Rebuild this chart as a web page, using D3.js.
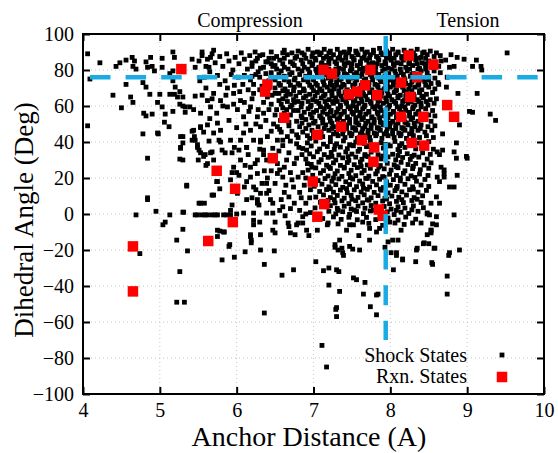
<!DOCTYPE html>
<html>
<head>
<meta charset="utf-8">
<script src="https://cdn.jsdelivr.net/npm/d3@7"></script>
<style>
  body { margin: 0; background: #fff; }
  svg { display: block; }
</style>
</head>
<body>
<div id="container"></div>
<script>
// ---- data ----
let xTicks = [4, 5, 6, 7, 8, 9, 10];
let yTicks = [-100, -80, -60, -40, -20, 0, 20, 40, 60, 80, 100];
let cutDistance = 7.94;   // vertical dashed line
let cutAngle = 76;        // horizontal dashed line
let vLineBottom = -70;

// reaction states (red)
let rxnStates = [
  [5.28,80.5],[6.37,68],[6.4,72],[6.62,53.5],[6.47,31],[5.74,24],[5.98,14],[5.95,-4.5],[5.63,-15],[4.65,-18],[4.65,-43],
  [8.24,88],[8.56,83],[7.13,80],[7.24,78],[7.74,80],[8.14,73],[8.35,76],[7.46,66.5],[7.57,68],[7.67,71.5],[7.83,66],
  [8.26,65],[8.74,60.5],[8.83,54],[8.14,54],[8.43,54],[7.36,48.5],[7.05,44],[7.63,41],[7.79,37],[8.28,39.5],[8.44,38],
  [7.78,29],[6.99,18],[7.14,5.5],[7.05,-1.5],[7.85,2.5],[7.9,-1]
];

// shock states (black), scattered outer points
let shockSparse = [
  [4.06,89],[4.22,84],[4.09,75],[4.06,49],[4.43,82],[4.48,84],[4.56,85.5],[4.64,87],[4.67,85],[4.65,82],[4.69,80.5],
  [4.56,72],[4.39,66],[4.62,65],[4.65,62],[4.5,59],[4.78,73],[4.82,70.5],[4.87,66.5],[4.79,56],[4.82,54.5],[4.9,55.5],
  [4.78,44.5],[4.82,84.5],[4.88,87],[4.9,82],[4.84,81.5],[4.93,79.5],[5.03,86.5],[5.03,81.5],[5.0,66.5],[4.97,62],
  [4.98,44.5],[5.03,59.5],[5.07,55.5],[5.06,51],[5.12,48.5],[5.17,90],[5.19,87],[5.17,79.5],[5.13,78],[5.17,74],
  [5.2,70.5],[5.19,66.5],[5.23,65],[5.26,68],[5.3,65],[5.26,61],[5.13,66.5],[5.17,57],[5.3,60],[5.33,56.5],[5.42,86],
  [5.51,85],[5.55,88],[5.46,81.5],[5.52,74],[5.46,65.5],[5.39,59.5],[5.42,46],[5.3,43],[5.45,43],[5.64,81.5],[5.66,87],
  [5.53,48.5],[5.64,40.5],
  [5.27,43],[5.27,37],[5.3,30],[5.35,16],[5.31,1],[5.44,46.5],[5.42,41],[5.49,37],[5.53,34],[5.57,32],[5.62,28],
  [5.66,34],[5.53,48],[5.57,45.5],[5.62,49.5],[5.7,45],[5.75,50.5],[5.79,46.5],[5.77,41],[5.81,35.5],[5.7,30],
  [5.92,41],[5.94,34],[5.96,26],[6.03,21.5],[5.92,19],[5.75,18],[5.7,10.5],[5.53,6],[5.49,-0.5],[5.55,-0.5],
  [5.62,-0.5],[5.68,-0.5],[5.75,-0.5],[5.83,-0.5],[5.92,2],[4.84,8],[4.84,31],[4.69,-0.5],[4.97,45],
  [5.33,59.5],[5.44,58],[5.53,56],[5.62,63],[5.66,59.5],[5.7,67],[5.79,63],[5.88,59.5],[5.96,67],[6.05,63],[6.01,58],
  [6.09,54],[6.18,59.5],[6.22,67],[6.27,54],[6.31,48.5],[6.18,46.5],[6.09,45],[6.05,41],[6.13,37],[6.22,41],[6.31,41],
  [6.35,35.5],[6.39,30],[6.27,30],[6.18,26],[6.27,22.5],[6.13,18],[6.22,15],[6.31,11.5],[6.39,17],[6.44,8],[6.27,6],
  [6.13,8],[6.09,0.5],[6.22,0.5],[6.39,0.5],[6.47,0.5],[6.01,11.5],[6.53,22.5],[6.53,41],[6.53,48.5],
  [5.55,90],[5.62,86],[5.68,89],[5.72,84],[5.78,87.5],[5.82,82],[5.87,89],[5.9,85],[5.95,80],[5.98,87],[6.03,83.5],
  [6.06,89.5],[6.1,86],[6.14,80.5],[6.17,88],[6.2,84],[6.24,90],[6.27,86.5],[6.31,81],[6.34,88.5],[6.38,84.5],
  [6.42,86.5],[6.47,82],[5.65,79],[5.75,77],[5.85,74],[5.93,77.5],[6.02,76],[6.1,77],[6.18,74.5],[6.25,77.5],
  [6.38,78],[6.42,74],[5.6,82],[5.7,91],[5.58,76],[5.88,70],[5.97,71.5],[6.08,72],[6.15,69],[6.22,72],[6.33,71],
  [6.4,65],[6.46,66],[6.35,62],[6.42,58],[6.38,52],[6.45,46],[6.5,55],[6.4,43],[6.58,45.5],
  [9.52,89.5],[9.12,85.5],[9.07,82],[9.18,82],[9.19,80],[8.96,86],[8.87,87],[8.79,88.5],[8.72,85.5],[8.83,82],
  [8.77,81.5],[9.13,67],[8.88,67],[9.03,57],[9.07,56.5],[9.3,55.5],[9.37,52],[8.9,49.5],[8.73,70.5],[8.74,76],
  [8.63,72],[8.68,44.5],
  [9.0,31],[8.86,31],[8.87,21.5],[8.83,15],[8.61,20.5],[8.7,20.5],[8.66,26],[8.7,24.5],[8.64,33],[8.61,34.5],
  [8.53,6],[8.64,6],[8.83,-0.5],[8.6,-1.5],[8.51,-0.5],[8.6,-6],[8.53,-9],[8.48,-11.5],[8.44,-16],[8.57,-19],
  [8.77,-21.5],[8.9,-20],[8.35,-19],[8.48,0],[8.68,35.5],[8.86,39.5],[8.83,34.5],[8.99,32],[8.7,22.5],[8.64,18],
  [8.77,15],[8.6,9.5],
  [4.74,-22],[5.26,-32],[5.22,-49],[5.32,-49],[5.81,-25.5],[5.97,-24],[6.36,-28],[6.36,-55],[6.59,-34],[6.74,-31],
  [7.03,-26.5],[7.13,-31.5],[7.2,-30],[7.3,-31],[7.33,-32],[7.2,-39.5],[7.34,-43],[7.52,-35.5],[7.56,-36.5],
  [7.67,-38],[7.65,-44.5],[7.84,-44.5],[7.74,-51.5],[7.82,-56],[7.3,-52],[7.3,-57],[7.11,-73],[7.17,-85],
  [8.04,-31],[8.16,-25.5],[8.33,-26.5],[8.55,-28],[8.74,-34.5],[8.74,-44.5],[8.76,-23],[7.39,-23],[8.08,-23],
  [5.04,-6],[5.07,-4.5],[5.22,-14.5],[5.3,-8.5],[5.36,-20.5],[5.75,-9],[5.75,-12.5],[5.83,-10],[5.91,-17],
  [6.11,-21],[6.18,-11.5],[6.19,-14.5],[6.19,-16],[6.22,-6],[6.3,-4.5],[6.31,-20],[6.49,-20.5],[6.5,-10.5],
  [6.7,-10.5],[6.76,-11.5],[6.67,-5],[6.78,-6],[6.86,-5],[6.91,-9],[6.94,-12],[7.19,-5],[7.28,-17],[7.34,-14.5],
  [7.32,-20],[7.37,-19],[7.38,-21.5],[7.51,-19.5],[7.43,-9],[7.47,-6],[7.59,-12],[7.64,-4.5],[7.73,-8],[7.82,-10],
  [7.86,-8],[7.82,-45],[7.29,-53],[7.93,-18.5],[7.97,-15.5],[8.03,-14.5],[8.1,-14.5],[8.01,-21.5],[8.08,-21.5],
  [8.16,-25],[8.06,-5],[8.14,-9],[7.99,-4.5],[8.29,-5],[8.34,-20],[8.43,-16.5],[8.5,-16.5],[8.58,-19],[8.54,-27],
  [8.53,-9],[8.53,-10.5],[8.55,-5.5],
  [4.84,9],[4.95,1.5],[5.13,-0.5],[5.3,1],[5.35,15.5],[5.27,36.5],[5.26,30.5],[5.3,39.5],[5.46,41],[5.49,38.5],
  [5.51,35.5],[5.5,30],[5.59,33],[5.6,27],[5.68,34.5],[5.79,40],[5.85,34],[5.97,37],[6.03,35.5],[6.0,23],[5.94,23],
  [5.74,18],[5.78,14],[5.68,10.5],[5.51,6],[5.58,6],[5.46,-0.5],[5.59,-0.5],[5.72,-0.5],[5.87,-0.5],[5.92,-0.5],
  [6.0,0],[5.94,5],[5.78,-9.5],[5.84,-10],[5.9,-18],
  [6.11,27],[6.18,20.5],[6.25,13.5],[6.27,8],[6.29,5],[6.35,33],[6.33,17],[6.39,11.5],[6.47,6],[6.6,4],[6.58,8],
  [6.68,9.5],[6.74,15],[6.6,20.5],[6.56,24.5],[6.53,28],[6.65,30],[6.68,34],[6.81,37],[6.91,35.5],[6.98,26],
  [6.86,23],[6.8,20.5],[6.96,13.5],[6.86,-1.5],[6.8,-5],[6.68,-7],[6.47,-9],[6.31,-11.5],[6.18,-12.5],[6.22,-3.5],
  [6.5,-4.5],[7.05,-9],[7.18,-6],[7.47,-18],[7.6,-20],[7.73,-14.5],[7.28,-18.5],[6.13,37],[6.31,40],[6.47,36.5],
  [6.6,38],[6.82,2],[6.9,6],[6.75,28],[6.88,16],
  [6.62,12],[6.7,3],[6.78,31],[6.84,9],[6.92,28],[6.55,35],[6.45,24],[6.72,19],[6.9,0],[6.4,20],[6.63,-1],
  [6.35,56],[6.45,61],[6.52,58],[6.48,50],[6.56,47],[6.62,56],[6.55,63],[6.6,41],[6.7,40.5],[6.78,44],
  [6.85,50.5],[6.6,59],[6.66,68],[6.5,67],[6.42,70],[6.75,62],[6.68,51],[6.74,57.5],[6.95,42],[6.57,52],
  [5.6,70],[5.68,64],[5.74,56],[5.82,60],[5.86,66],[5.9,52],[5.96,61],[6.0,48],[6.04,68],[6.1,62],
  [6.12,50],[6.16,57],[6.2,64],[6.25,50],[6.28,58],[6.3,69],[6.2,76.5],[5.78,72],[5.55,66],[5.65,53],
  [6.05,30],[6.1,15],[6.15,33],[6.2,9],[6.24,28],[6.3,36],[6.36,24],[6.42,13],[6.45,32],[6.5,17],
  [6.56,2],[6.62,26],[6.7,23],[6.75,6],[6.82,12],[6.85,33],[6.9,20],[6.95,9],[6.78,39],[6.64,16]
];

// shock states, dense upper block (41 < angle < 92)
let shockUpper = [
  [6.45,90],[6.62,91],[6.8,90.5],[6.93,91.5],[7.05,90],[7.14,91.5],[7.22,90.5],[7.31,91.5],[7.4,90],[7.47,91.5],[7.55,90.5],[7.63,91.5],[7.7,90],[7.78,91],[7.86,92],[7.95,90.5],[8.03,91.5],[8.1,90],[8.18,91],[8.27,90.5],[8.35,91.5],[8.44,90],[8.52,90.5],[8.6,89.5],
  [6.3,88],[6.52,87.5],[6.66,88.5],[6.78,87.5],[6.88,88.5],[6.98,87.5],[7.08,88.5],[7.17,87.5],[7.26,88.5],[7.34,87],[7.42,88.5],[7.5,87.5],[7.58,88.5],[7.66,87],[7.74,88.5],[7.82,87.5],[7.9,88.5],[7.99,87],[8.07,88.5],[8.15,87.5],[8.32,88],[8.4,87],[8.48,88.5],[8.57,87.5],[8.65,88],
  [6.25,85],[6.4,84.5],[6.56,85.5],[6.7,84.5],[6.84,85.5],[6.95,84.5],[7.03,85.5],[7.11,84],[7.2,85.5],[7.28,84.5],[7.37,85.5],[7.45,84],[7.53,85.5],[7.61,84.5],[7.69,85.5],[7.77,84],[7.85,85.5],[7.93,84.5],[8.01,85.5],[8.09,84],[8.17,85.5],[8.25,84.5],[8.33,85.5],[8.41,84],[8.5,85],[8.58,84.5],[8.66,85],
  [6.2,82],[6.35,81.5],[6.5,82.5],[6.62,81.5],[6.75,82.5],[6.88,81.5],[6.98,82.5],[7.07,81.5],[7.16,82.5],[7.33,81],[7.41,82.5],[7.49,81.5],[7.57,82.5],[7.65,81],[7.81,81.5],[7.89,82.5],[7.97,81],[8.05,82.5],[8.2,81.5],[8.29,82.5],[8.38,81],[8.46,82.5],[8.55,81.5],[8.63,82],
  [6.28,79],[6.45,78.5],[6.58,79.5],[6.72,78.5],[6.85,79.5],[6.95,78.5],[7.04,79.5],[7.32,79.5],[7.4,78],[7.48,79.5],[7.56,78.5],[7.64,79.5],[7.81,78.5],[7.9,79.5],[7.98,78],[8.06,79.5],[8.14,78.5],[8.22,79.5],[8.3,78],[8.4,79.5],[8.48,78.5],[8.57,79.5],[8.65,78.5],
  [6.3,76],[6.48,75.5],[6.62,76.5],[6.76,75.5],[6.9,76.5],[7.0,75.5],[7.1,76.5],[7.19,75.5],[7.28,76.5],[7.36,75],[7.44,76.5],[7.52,75.5],[7.6,76.5],[7.68,75],[7.76,76.5],[7.85,75.5],[7.93,76.5],[8.01,75],[8.09,76.5],[8.18,75.5],[8.26,76.5],[8.42,75.5],[8.5,76.5],[8.58,75.5],
  [6.42,73],[6.55,72.5],[6.68,73.5],[6.8,72.5],[6.93,73.5],[7.03,72.5],[7.13,73.5],[7.22,72.5],[7.3,73.5],[7.38,72],[7.46,73.5],[7.54,72.5],[7.72,73],[7.8,72],[7.88,73.5],[7.96,72.5],[8.04,73.5],[8.2,72.5],[8.28,73.5],[8.37,72],[8.45,73.5],[8.53,72.5],[8.62,73],
  [6.5,70],[6.63,69.5],[6.75,70.5],[6.87,69.5],[6.98,70.5],[7.08,69.5],[7.18,70.5],[7.27,69.5],[7.36,70.5],[7.44,69],[7.52,70.5],[7.6,69.5],[7.68,70.5],[7.76,69],[7.84,70.5],[7.92,69.5],[8.0,70.5],[8.08,69],[8.16,70.5],[8.24,69.5],[8.32,70.5],[8.41,69],[8.5,70.5],[8.58,69.5],
  [6.55,67],[6.7,66.5],[6.82,67.5],[6.95,66.5],[7.05,67.5],[7.15,66.5],[7.24,67.5],[7.33,66.5],[7.41,67.5],[7.49,66],[7.57,67.5],[7.65,66.5],[7.73,67.5],[7.81,66],[7.89,67.5],[7.97,66.5],[8.05,67.5],[8.13,66],[8.21,67.5],[8.3,66.5],[8.38,67.5],[8.47,66.5],[8.55,67.5],
  [6.6,64],[6.74,63.5],[6.87,64.5],[6.99,63.5],[7.1,64.5],[7.2,63.5],[7.29,64.5],[7.38,63.5],[7.46,64.5],[7.54,63],[7.62,64.5],[7.7,63.5],[7.78,64.5],[7.86,63],[7.94,64.5],[8.02,63.5],[8.1,64.5],[8.18,63],[8.26,64.5],[8.35,63.5],[8.43,64.5],[8.52,63.5],[8.6,64],
  [6.58,61],[6.72,60.5],[6.85,61.5],[6.97,60.5],[7.07,61.5],[7.17,60.5],[7.26,61.5],[7.35,60.5],[7.43,61.5],[7.51,60],[7.59,61.5],[7.67,60.5],[7.75,61.5],[7.83,60],[7.91,61.5],[7.99,60.5],[8.07,61.5],[8.15,60],[8.23,61.5],[8.32,60.5],[8.4,61.5],[8.49,60.5],[8.57,61.5],
  [6.65,58],[6.8,57.5],[6.93,58.5],[7.04,57.5],[7.14,58.5],[7.23,57.5],[7.32,58.5],[7.4,57],[7.48,58.5],[7.56,57.5],[7.64,58.5],[7.72,57],[7.8,58.5],[7.88,57.5],[7.96,58.5],[8.04,57],[8.12,58.5],[8.2,57.5],[8.29,58.5],[8.37,57],[8.46,58.5],[8.55,57.5],
  [6.7,55],[6.84,54.5],[6.96,55.5],[7.08,54.5],[7.18,55.5],[7.27,54.5],[7.36,55.5],[7.44,54],[7.52,55.5],[7.6,54.5],[7.68,55.5],[7.76,54],[7.84,55.5],[7.92,54.5],[8.0,55.5],[8.08,54],[8.16,55.5],[8.25,54.5],[8.33,55.5],[8.5,55],[8.58,54.5],
  [6.62,52],[6.78,51.5],[6.9,52.5],[7.02,51.5],[7.12,52.5],[7.22,51.5],[7.31,52.5],[7.39,51.5],[7.47,52.5],[7.55,51],[7.63,52.5],[7.71,51.5],[7.79,52.5],[7.87,51],[7.95,52.5],[8.03,51.5],[8.11,52.5],[8.19,51],[8.27,52.5],[8.36,51.5],[8.44,52.5],[8.53,51.5],
  [6.68,49],[6.82,48.5],[6.94,49.5],[7.06,48.5],[7.16,49.5],[7.26,48.5],[7.43,49.5],[7.51,48],[7.59,49.5],[7.67,48.5],[7.75,49.5],[7.83,48],[7.91,49.5],[7.99,48.5],[8.07,49.5],[8.15,48],[8.23,49.5],[8.32,48.5],[8.4,49.5],[8.49,48.5],[8.58,49],
  [6.72,46],[6.86,45.5],[6.98,46.5],[7.1,45.5],[7.2,46.5],[7.3,45.5],[7.39,46.5],[7.47,45],[7.55,46.5],[7.63,45.5],[7.71,46.5],[7.79,45],[7.87,46.5],[7.95,45.5],[8.03,46.5],[8.11,45],[8.19,46.5],[8.28,45.5],[8.36,46.5],[8.45,45.5],[8.54,46.5],
  [6.66,43],[6.8,42.5],[6.92,43.5],[7.12,43],[7.22,42.5],[7.32,43.5],[7.41,42.5],[7.49,43.5],[7.57,42],[7.65,43.5],[7.73,42.5],[7.81,43.5],[7.89,42],[7.97,43.5],[8.05,42.5],[8.13,43.5],[8.21,42],[8.3,43.5],[8.38,42.5],[8.47,43.5],[8.56,42.5]
];

// shock states, the packed core: one angle, then the distances on that row
let shockCoreRows = [
  [89.5, [6.6,6.72,6.85,6.99,7.1,7.2,7.35,7.46,7.56,7.67,7.78,7.88,7.99,8.1,8.2,8.3,8.42]],
  [86.5, [6.48,6.62,6.76,6.9,7.02,7.13,7.23,7.32,7.42,7.52,7.63,7.73,7.84,7.95,8.05,8.15,8.26,8.37,8.46]],
  [83.5, [6.45,6.6,6.73,6.86,6.99,7.1,7.2,7.3,7.4,7.5,7.61,7.72,7.83,7.94,8.04,8.14,8.24,8.35,8.45]],
  [80.5, [6.52,6.67,6.8,6.93,7.03,7.2,7.29,7.39,7.5,7.6,7.7,7.8,7.92,8.02,8.13,8.25,8.36,8.46]],
  [77.5, [6.55,6.69,6.82,6.95,7.05,7.17,7.32,7.43,7.53,7.63,7.74,7.85,7.96,8.07,8.17,8.28,8.38]],
  [74.5, [6.5,6.62,6.75,6.87,7.0,7.12,7.23,7.34,7.45,7.56,7.66,7.77,7.87,7.98,8.08,8.19,8.3,8.4,8.5]],
  [71.5, [6.57,6.7,6.82,6.95,7.05,7.14,7.24,7.3,7.4,7.51,7.62,7.72,7.83,7.94,8.04,8.15,8.26,8.36,8.46]],
  [68.5, [6.6,6.74,6.88,7.0,7.11,7.21,7.33,7.43,7.54,7.64,7.75,7.86,7.96,8.07,8.18,8.28,8.38]],
  [65.5, [6.64,6.77,6.9,7.02,7.13,7.24,7.36,7.46,7.57,7.68,7.78,7.88,7.99,8.1,8.2,8.31,8.41]],
  [62.5, [6.66,6.8,6.93,7.04,7.15,7.25,7.31,7.42,7.52,7.63,7.74,7.84,7.95,8.05,8.16,8.27,8.37,8.47]],
  [59.5, [6.7,6.84,6.96,7.09,7.2,7.35,7.45,7.56,7.66,7.77,7.87,7.98,8.09,8.19,8.3,8.4]],
  [56.5, [6.88,7.0,7.12,7.22,7.3,7.4,7.5,7.61,7.72,7.83,7.93,8.04,8.14,8.25,8.36]],
  [53.5, [6.85,6.98,7.1,7.21,7.34,7.44,7.55,7.65,7.76,7.86,7.97,8.08,8.18,8.29,8.4]],
  [50.5, [7.0,7.12,7.24,7.36,7.47,7.57,7.68,7.79,7.89,8.0,8.1,8.21,8.31]],
  [47.5, [6.9,7.14,7.24,7.33,7.43,7.54,7.64,7.75,7.85,7.96,8.07,8.17,8.28,8.39]],
  [44.5, [7.0,7.26,7.38,7.5,7.61,7.71,7.82,7.92,8.03,8.14,8.25]]
];

// shock states, lower band (about -6 to 41 degrees)
let shockLower = [
  [6.92,39.5],[7.03,40.5],[7.13,38.8],[7.22,40.2],[7.3,39],[7.39,40.6],[7.47,38.5],[7.55,40],[7.66,39.2],[7.74,40.7],[7.88,39.6],[7.97,38.4],[8.06,40.3],[8.15,39.1],[8.24,40.5],[8.36,39.4],[8.5,40.2],
  [6.86,36.4],[6.97,37.8],[7.08,36.1],[7.18,37.5],[7.27,35.9],[7.35,37.2],[7.44,36.3],[7.52,37.9],[7.6,36],[7.69,37.4],[7.91,36.6],[8.0,37.8],[8.1,35.8],[8.19,37],[8.33,36.2],[8.47,37.1],[8.56,36],
  [6.95,33.4],[7.05,34.6],[7.14,33],[7.23,34.2],[7.33,32.8],[7.42,34.5],[7.5,33.3],[7.58,34.8],[7.67,33],[7.75,34.4],[7.84,32.9],[7.94,34.1],[8.03,33.2],[8.12,34.7],[8.22,33.5],[8.31,32.7],[8.42,34],[8.52,33.1],
  [6.9,30.5],[7.0,31.8],[7.1,30.2],[7.19,31.5],[7.29,30],[7.38,31.2],[7.46,29.8],[7.55,31.6],[7.63,30.4],[7.71,31.9],[7.88,30.6],[7.97,31.7],[8.07,30.1],[8.16,31.4],[8.26,30.3],[8.37,31.6],[8.48,30.5],
  [6.97,27.6],[7.07,28.8],[7.17,27.1],[7.26,28.4],[7.35,27],[7.44,28.6],[7.53,27.4],[7.61,28.9],[7.7,27.2],[7.79,28.5],[7.87,26.9],[7.96,28.2],[8.05,27.3],[8.14,28.7],[8.23,27.5],[8.33,28.1],[8.44,27.2],[8.53,28.4],
  [6.93,24.4],[7.03,25.6],[7.13,24.1],[7.22,25.3],[7.31,23.9],[7.4,25.5],[7.49,24.3],[7.57,25.8],[7.66,24.2],[7.74,25.4],[7.83,23.8],[7.92,25.1],[8.01,24.4],[8.1,25.7],[8.19,24],[8.29,25.2],[8.39,24.6],[8.5,25.4],
  [6.99,21.5],[7.09,22.7],[7.19,21.1],[7.28,22.4],[7.37,20.9],[7.46,22.5],[7.55,21.3],[7.63,22.8],[7.72,21],[7.81,22.3],[7.9,20.8],[7.99,22.1],[8.08,21.4],[8.17,22.6],[8.27,21.2],[8.38,22.2],[8.49,21.4],
  [7.06,18.6],[7.15,19.7],[7.24,18.2],[7.33,19.5],[7.42,17.9],[7.51,19.4],[7.6,18.3],[7.68,19.8],[7.77,18.1],[7.86,19.3],[7.95,17.8],[8.04,19.1],[8.13,18.4],[8.23,19.6],[8.34,18.2],[8.45,19.2],
  [7.01,15.4],[7.11,16.6],[7.2,15.1],[7.29,16.3],[7.38,14.8],[7.47,16.4],[7.56,15.2],[7.64,16.7],[7.73,15],[7.82,16.2],[7.91,14.7],[8.0,16],[8.09,15.3],[8.19,16.5],[8.29,15.1],[8.4,16.1],[8.5,15.3],
  [7.08,12.5],[7.17,13.6],[7.26,12.1],[7.35,13.3],[7.44,11.8],[7.53,13.4],[7.62,12.2],[7.7,13.7],[7.79,12],[7.88,13.2],[7.97,11.7],[8.06,13],[8.15,12.3],[8.25,13.5],[8.36,12.1],[8.47,13.1],
  [7.03,9.4],[7.13,10.6],[7.22,9.1],[7.31,10.3],[7.4,8.8],[7.49,10.4],[7.58,9.2],[7.66,10.7],[7.75,9],[7.84,10.2],[7.93,8.7],[8.02,10],[8.11,9.3],[8.21,10.5],[8.31,9.1],[8.42,10.1],
  [7.09,6.5],[7.19,7.6],[7.28,6.1],[7.37,7.3],[7.46,5.8],[7.55,7.4],[7.64,6.2],[7.72,7.7],[7.81,6],[7.9,7.2],[7.99,5.7],[8.08,7],[8.17,6.3],[8.28,7.5],[8.4,6.4],
  [7.02,3.4],[7.22,4.6],[7.31,3.1],[7.4,4.3],[7.49,2.8],[7.58,4.4],[7.67,3.2],[7.75,4.7],[7.92,4.2],[8.01,2.7],[8.1,4],[8.19,3.3],[8.3,4.5],[8.43,3.5],
  [6.96,0.8],[7.2,1.5],[7.29,0.1],[7.38,1.3],[7.47,-0.2],[7.56,1.4],[7.65,0.2],[7.74,1.7],[7.96,1.2],[8.05,-0.3],[8.14,1],[8.24,0.3],[8.36,1.5],[8.48,0.6],
  [7.12,-2.5],[7.26,-1.6],[7.36,-3],[7.46,-1.8],[7.57,-3.2],[7.69,-1.9],[7.81,-3.1],[7.97,-2.2],[8.1,-3.4],[8.2,-1.7],[8.33,-2.9],
  [7.32,-5.5],[7.52,-6],[7.72,-5.2],[7.9,-6.3],[8.18,-5.8],[8.4,-5],
  [7.28,38],[7.5,38.2],[7.72,37.9],[7.93,38.6],[8.12,38],[8.3,38.4],
  [7.24,32],[7.45,31.9],[7.67,32.3],[7.9,32.2],[8.1,32.5],[8.28,32],
  [7.2,26.2],[7.4,26],[7.62,26.4],[7.85,26.1],[8.08,26.3],[8.3,26.5],
  [7.26,20],[7.48,20.2],[7.7,19.8],[7.92,20.4],[8.13,20],[8.32,20.3],
  [7.22,14],[7.43,14.1],[7.65,14.3],[7.87,13.9],[8.08,14.2],[8.3,13.8],
  [7.27,8],[7.5,8.2],[7.7,7.9],[7.95,8.3],[8.15,8],[8.35,8.2],
  [7.32,2],[7.53,2.2],[7.78,2.1],[8.08,2],[8.28,2.3]
];

// ---- chart ----
let w = 558;
let h = 453;
let font = "'Liberation Serif', 'Times New Roman', serif";

let viz = d3.select("#container")
  .append("svg")
    .attr("width", w)
    .attr("height", h)
    .style("font-family", font)
;

let xScale = d3.scaleLinear().domain([4, 10]).range([83, 544]);
let yScale = d3.scaleLinear().domain([-100, 100]).range([394, 34]);

// turn the row tables into points
function rowsToPoints(rows){
  let out = [];
  rows.forEach(function(r){
    r[1].forEach(function(x){ out.push([x, r[0]]); });
  });
  return out;
}
let shockStates = shockSparse
  .concat(shockUpper)
  .concat(rowsToPoints(shockCoreRows))
  .concat(shockLower);

// dotted grid
let grid = viz.append("g").attr("class", "grid")
  .attr("stroke", "#c4c4c4")
  .attr("stroke-width", 1)
  .attr("stroke-dasharray", "1,3");
grid.selectAll(".gx").data(xTicks.slice(1, -1)).enter()
  .append("line")
    .attr("x1", d => xScale(d)).attr("x2", d => xScale(d))
    .attr("y1", yScale(100)).attr("y2", yScale(-100));
grid.selectAll(".gy").data(yTicks.slice(1, -1)).enter()
  .append("line")
    .attr("y1", d => yScale(d)).attr("y2", d => yScale(d))
    .attr("x1", xScale(4)).attr("x2", xScale(10));

// points
let s = 4.8;
viz.append("g").selectAll("rect").data(shockStates).enter()
  .append("rect")
    .attr("x", d => xScale(d[0]) - s/2)
    .attr("y", d => yScale(d[1]) - s/2)
    .attr("width", s).attr("height", s)
    .attr("fill", "#000");

let r = 10.5;
viz.append("g").selectAll("rect").data(rxnStates).enter()
  .append("rect")
    .attr("x", d => xScale(d[0]) - r/2)
    .attr("y", d => yScale(d[1]) - r/2)
    .attr("width", r).attr("height", r)
    .attr("fill", "#ff0000");

// dashed cut lines
let cyan = "#19ace4";
viz.append("line")
  .attr("x1", xScale(4)).attr("x2", xScale(10))
  .attr("y1", yScale(cutAngle)).attr("y2", yScale(cutAngle))
  .attr("stroke", cyan).attr("stroke-width", 4.5)
  .attr("stroke-dasharray", "20.5,15.1")
  .attr("stroke-dashoffset", 28.6);
viz.append("line")
  .attr("x1", xScale(cutDistance)).attr("x2", xScale(cutDistance))
  .attr("y1", yScale(100)).attr("y2", yScale(vLineBottom))
  .attr("stroke", cyan).attr("stroke-width", 4.5)
  .attr("stroke-dasharray", "20,15.6")
  .attr("stroke-dashoffset", -2);

// axes, ticks pointing inward on all four sides
function styleAxis(g){
  g.select(".domain").remove();
  g.selectAll(".tick line").attr("stroke", "#000").attr("stroke-width", 2);
  g.selectAll(".tick text").attr("font-size", 20).attr("font-family", font).attr("fill", "#000");
}
let fmt = d3.format("d");
viz.append("g")
  .attr("transform", "translate(0," + yScale(-100) + ")")
  .call(d3.axisBottom(xScale).tickValues(xTicks).tickFormat(fmt).tickSize(-7).tickPadding(9))
  .call(styleAxis);
viz.append("g")
  .attr("transform", "translate(" + xScale(4) + ",0)")
  .call(d3.axisLeft(yScale).tickValues(yTicks).tickFormat(fmt).tickSize(-7).tickPadding(9))
  .call(styleAxis);
viz.append("g")
  .attr("transform", "translate(0," + yScale(100) + ")")
  .call(d3.axisTop(xScale).tickValues(xTicks).tickSize(-7).tickFormat(""))
  .call(styleAxis);
viz.append("g")
  .attr("transform", "translate(" + xScale(10) + ",0)")
  .call(d3.axisRight(yScale).tickValues(yTicks).tickSize(-7).tickFormat(""))
  .call(styleAxis);

viz.append("rect")
  .attr("x", xScale(4)).attr("y", yScale(100))
  .attr("width", xScale(10) - xScale(4))
  .attr("height", yScale(-100) - yScale(100))
  .attr("fill", "none").attr("stroke", "#000").attr("stroke-width", 2);

// labels
viz.append("text").text("Compression")
  .attr("x", 250).attr("y", 27).attr("text-anchor", "middle").attr("font-size", 20);
viz.append("text").text("Tension")
  .attr("x", 468).attr("y", 27).attr("text-anchor", "middle").attr("font-size", 20);
viz.append("text").text("Anchor Distance (A)")
  .attr("x", 309).attr("y", 446).attr("text-anchor", "middle").attr("font-size", 28);
viz.append("text").text("Dihedral Angle (Deg)")
  .attr("transform", "translate(33,220) rotate(-90)")
  .attr("text-anchor", "middle").attr("font-size", 27);

// legend
viz.append("text").text("Shock States")
  .attr("x", 467).attr("y", 362).attr("text-anchor", "end").attr("font-size", 20);
viz.append("rect")
  .attr("x", 502 - s/2).attr("y", 355 - s/2).attr("width", s).attr("height", s).attr("fill", "#000");
viz.append("text").text("Rxn. States")
  .attr("x", 467).attr("y", 383).attr("text-anchor", "end").attr("font-size", 20);
viz.append("rect")
  .attr("x", 502 - r/2).attr("y", 377 - r/2).attr("width", r).attr("height", r).attr("fill", "#ff0000");
</script>
</body>
</html>
